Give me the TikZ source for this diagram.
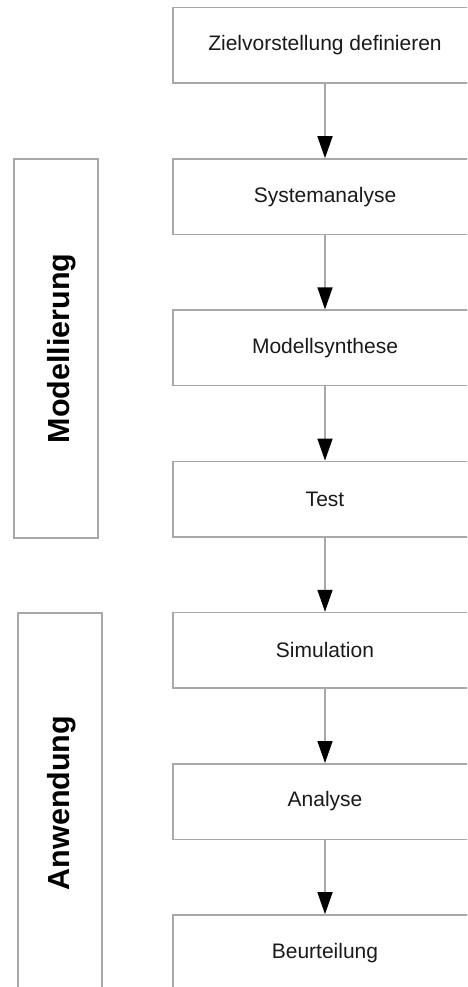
\documentclass[tikz,border=0pt]{standalone}
\usepackage{fontspec}
\setmainfont{Liberation Sans}
\usetikzlibrary{arrows.meta}
\definecolor{linegray}{HTML}{A8A8A8}
\definecolor{txt}{HTML}{1A1A1A}
\begin{document}
\begin{tikzpicture}[x=1pt,y=-1pt,
  stepbox/.style={draw=linegray,line width=1.5pt,fill=white,minimum width=304pt,minimum height=75.5pt,inner sep=0pt,text=txt,font=\fontsize{21}{25}\selectfont},
  groupbox/.style={draw=linegray,line width=1.5pt,fill=white,minimum width=84pt,inner sep=0pt},
  grouplabel/.style={rotate=90,text=black,font=\fontsize{30.5}{34}\selectfont\bfseries,inner sep=0pt},
  flow/.style={draw=linegray,line width=1.5pt,-{Triangle[length=22pt,width=15pt,color=black]}}]
\useasboundingbox (0,0) rectangle (467,987);
\clip (0,0) rectangle (467,987);
\node[stepbox] (z) at (325,45.5) {Zielvorstellung definieren};
\node[stepbox] (s) at (325,196.7) {Systemanalyse};
\node[stepbox] (m) at (325,347.9) {Modellsynthese};
\node[stepbox] (t) at (325,499.1) {Test};
\node[stepbox] (si) at (325,650.3) {Simulation};
\node[stepbox] (a) at (325,801.5) {Analyse};
\node[stepbox] (b) at (325,952.7) {Beurteilung};
\node[groupbox,minimum height=379pt] (gm) at (56,348.5) {};
\node[grouplabel] (lm) at (62,348.5) {Modellierung};
\node[groupbox,minimum height=378pt] (ga) at (60,802) {};
\node[grouplabel] (la) at (62,803) {Anwendung};
\draw[flow] (z.south) -- (s.north);
\draw[flow] (s.south) -- (m.north);
\draw[flow] (m.south) -- (t.north);
\draw[flow] (t.south) -- (si.north);
\draw[flow] (si.south) -- (a.north);
\draw[flow] (a.south) -- (b.north);
\end{tikzpicture}
\end{document}
